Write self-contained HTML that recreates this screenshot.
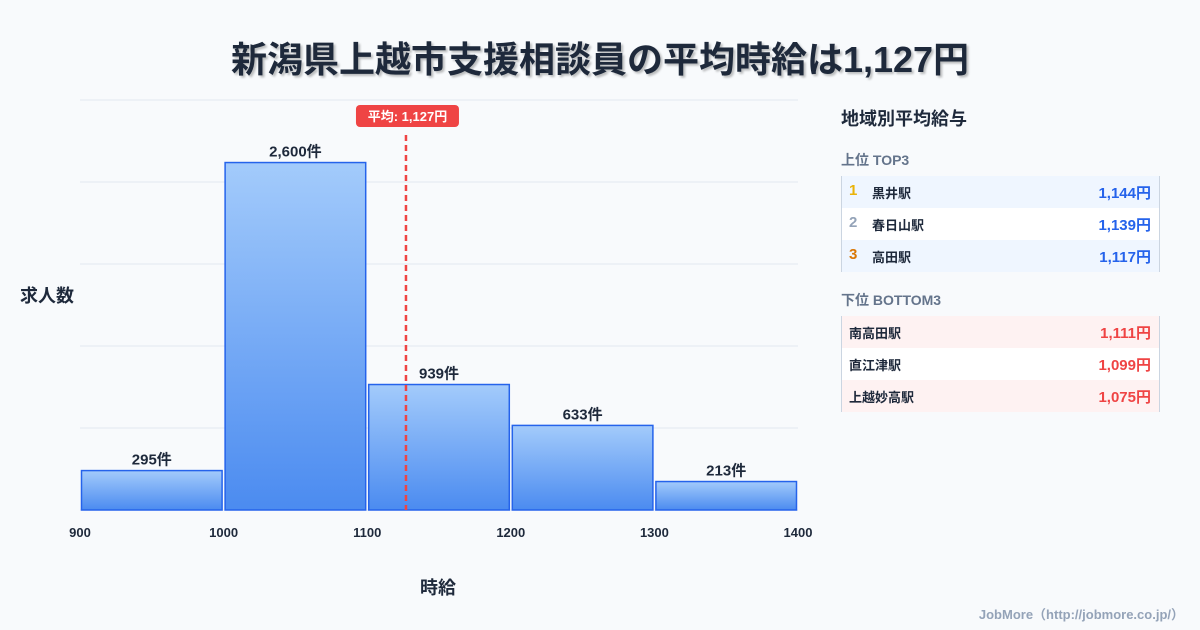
<!DOCTYPE html>
<html><head><meta charset="utf-8"><style>
body{margin:0;width:1200px;height:630px;background:#f8fafc;font-family:"Liberation Sans","Noto Sans CJK JP",sans-serif;position:relative;overflow:hidden;color:#1e293b}
.t{position:absolute;font-weight:bold}
.row{position:absolute;left:841px;width:319px;height:32px;font-size:13px;font-weight:bold;border-left:1px solid #cbd5e1;border-right:1px solid #cbd5e1;box-sizing:border-box}
.row span{position:absolute;top:7px}
.row .v{right:8px;font-size:15px;top:6px}
.row .n{left:7px;font-size:15px;top:6px}
</style></head><body>
<div class="t" style="left:0;width:1200px;text-align:center;top:31px;font-size:36px;text-shadow:2px 2px 2px rgba(0,0,0,0.25)">新潟県上越市支援相談員の平均時給は1,127円</div>
<svg id="chart" width="1200" height="630" style="position:absolute;left:0;top:0"></svg>
<div class="t" style="left:20px;top:282px;font-size:18px">求人数</div>
<div class="t" style="left:420px;top:574px;font-size:18px">時給</div>
<div class="t" style="left:841px;top:105px;font-size:18px">地域別平均給与</div>
<div class="t" style="left:841px;top:150px;font-size:14px;color:#64748b">上位 TOP3</div>
<div class="row" style="top:176px;background:#eff6ff"><span class="n" style="color:#eab308">1</span><span style="left:30px">黒井駅</span><span class="v" style="color:#2563eb">1,144円</span></div>
<div class="row" style="top:208px;background:#fff"><span class="n" style="color:#94a3b8">2</span><span style="left:30px">春日山駅</span><span class="v" style="color:#2563eb">1,139円</span></div>
<div class="row" style="top:240px;background:#eff6ff"><span class="n" style="color:#d97706">3</span><span style="left:30px">高田駅</span><span class="v" style="color:#2563eb">1,117円</span></div>
<div class="t" style="left:841px;top:290px;font-size:14px;color:#64748b">下位 BOTTOM3</div>
<div class="row" style="top:316px;background:#fef2f2"><span style="left:7px">南高田駅</span><span class="v" style="color:#ef4444">1,111円</span></div>
<div class="row" style="top:348px;background:#fff"><span style="left:7px">直江津駅</span><span class="v" style="color:#ef4444">1,099円</span></div>
<div class="row" style="top:380px;background:#fef2f2"><span style="left:7px">上越妙高駅</span><span class="v" style="color:#ef4444">1,075円</span></div>
<div class="t" style="right:16px;top:604px;font-size:13px;color:#94a3b8">JobMore（http://jobmore.co.jp/）</div>
<script>
const binStarts=[900,1000,1100,1200,1300];
const counts=[295,2600,939,633,213];
const countLabels=["295件","2,600件","939件","633件","213件"];
const xTicks=[900,1000,1100,1200,1300,1400];
const meanValue=1127;
const meanLabel="平均: 1,127円";
const yMax=3068;
const NS="http://www.w3.org/2000/svg";
const svg=document.getElementById('chart');
const L=80,R=798,T=100,B=510;
const xs=v=>L+(v-900)/500*(R-L);
const ys=v=>B-v/yMax*(B-T);
function mk(tag,at,parent){const e=document.createElementNS(NS,tag);for(const k in at)e.setAttribute(k,at[k]);(parent||svg).appendChild(e);return e;}
const defs=mk('defs',{});
const g=mk('linearGradient',{id:'bg',x1:0,y1:0,x2:0,y2:1},defs);
mk('stop',{offset:'0','stop-color':'#a3cbfb'},g);mk('stop',{offset:'1','stop-color':'#4b8bf0'},g);
for(let i=0;i<=5;i++){const y=T+i*(B-T)/5;const l=mk('line',{x1:L,x2:R,y1:y,y2:y,stroke:'#e2e8f0','stroke-width':1});

}
binStarts.forEach((s,i)=>{const x0=xs(s)+1.5,x1=xs(s+100)-1.5,y=ys(counts[i]);
const r=mk('rect',{x:x0,y:y,width:x1-x0,height:B-y,fill:'url(#bg)',stroke:'#2563eb','stroke-width':1.5});


const t=mk('text',{x:(x0+x1)/2,y:y-6,'text-anchor':'middle','font-size':15,'font-weight':'bold',fill:'#1e293b'});t.textContent=countLabels[i];

});
xTicks.forEach(v=>{const t=mk('text',{x:xs(v),y:537,'text-anchor':'middle','font-size':13,'font-weight':'bold',fill:'#1e293b'});t.textContent=v;

});
const mx=xs(meanValue);
const ml=mk('line',{x1:mx,x2:mx,y1:135,y2:B,stroke:'#ef4444','stroke-width':2.5,'stroke-dasharray':'6,4'});


const mb=mk('rect',{x:mx-50,y:105,width:103,height:22,rx:4,fill:'#ef4444'});


const mt=mk('text',{x:mx+1.5,y:121,'text-anchor':'middle','font-size':13,'font-weight':'bold',fill:'#fff'});mt.textContent=meanLabel;


</script>
</body></html>
